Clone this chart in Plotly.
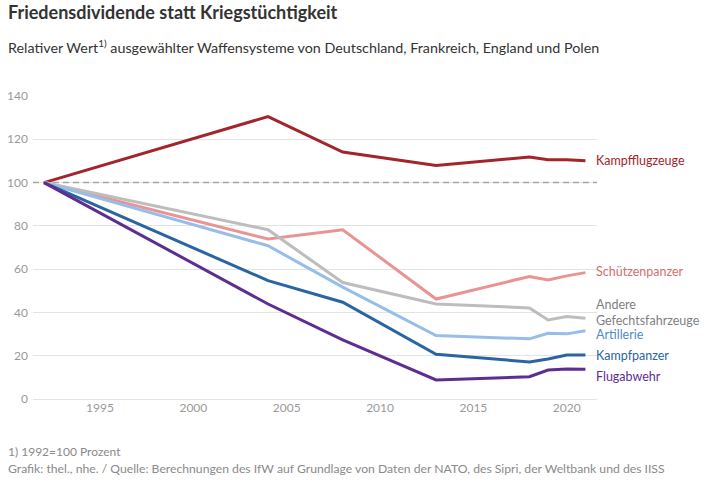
import plotly.graph_objects as go

years = [1992, 2004, 2008, 2013, 2018, 2019, 2020, 2021]
kampfflugzeuge = [100, 130.5, 114.1, 107.9, 111.8, 110.5, 110.5, 110.1]
schuetzenpanzer = [100, 73.9, 78.2, 46.2, 56.6, 55.0, 56.9, 58.4]
andere = [100, 78.2, 53.8, 43.9, 42.1, 36.5, 38.1, 37.3]
artillerie = [100, 70.8, 51.7, 29.3, 27.8, 30.4, 30.1, 31.5]
kampfpanzer = [100, 54.7, 44.7, 20.7, 17.1, 18.5, 20.3, 20.3]
flugabwehr = [100, 43.9, 27.3, 8.8, 10.3, 13.4, 13.9, 13.7]

series = [
    ("Kampfflugzeuge", kampfflugzeuge, "#a3242b", "#a3242b"),
    ("Schützenpanzer", schuetzenpanzer, "#ea9393", "#d46e6e"),
    ("Andere<br>Gefechtsfahrzeuge", andere, "#bdbdbd", "#7f7f7f"),
    ("Artillerie", artillerie, "#97bde9", "#4f8ac9"),
    ("Kampfpanzer", kampfpanzer, "#2b64a3", "#2b64a3"),
    ("Flugabwehr", flugabwehr, "#5c2e92", "#5c2e92"),
]

label_pos = {
    "Kampfflugzeuge": 110.1,
    "Schützenpanzer": 59.0,
    "Andere<br>Gefechtsfahrzeuge": 39.9,
    "Artillerie": 30.0,
    "Kampfpanzer": 20.3,
    "Flugabwehr": 10.4,
}

y_ticks = [0, 20, 40, 60, 80, 100, 120, 140]
x_ticks = [1995, 2000, 2005, 2010, 2015, 2020]
x_range = [1991.41, 2021.62]

FONT = "Lato"
W, H = 704, 485
ML, MR, MT, MB = 33, 107, 96, 86
PW, PH = W - ML - MR, H - MT - MB


def px_x(px):
    return (px - ML) / PW


def px_y(py):
    return (H - MB - py) / PH


fig = go.Figure()
fig.add_trace(go.Scatter(x=x_range, y=[100, 100], mode="lines",
                         line=dict(color="#a6a6a6", width=1.6, dash="6px,4px"),
                         showlegend=False, hoverinfo="skip"))
for name, vals, col, tcol in series:
    fig.add_trace(go.Scatter(x=years, y=vals, mode="lines", name=name,
                             line=dict(color=col, width=3), showlegend=False,
                             hoverinfo="skip"))

for name, vals, col, tcol in series:
    fig.add_annotation(x=years[-1], y=label_pos[name], xref="x", yref="y",
                       text=name, showarrow=False, xanchor="left", yanchor="middle",
                       xshift=9, align="left",
                       font=dict(family=FONT, size=12.5, color=tcol))

fig.add_annotation(xref="paper", yref="paper", x=px_x(6), y=px_y(12),
                   text="<b>Friedensdividende statt Kriegstüchtigkeit</b>",
                   showarrow=False, xanchor="left", yanchor="middle",
                   font=dict(family=FONT, size=18, color="#333333"))
fig.add_annotation(xref="paper", yref="paper", x=px_x(6), y=px_y(47),
                   text="Relativer Wert<sup>1)</sup> ausgewählter Waffensysteme von Deutschland, Frankreich, England und Polen",
                   showarrow=False, xanchor="left", yanchor="middle",
                   font=dict(family=FONT, size=14.3, color="#333333"))
fig.add_annotation(xref="paper", yref="paper", x=px_x(6), y=px_y(451),
                   text="1) 1992=100 Prozent",
                   showarrow=False, xanchor="left", yanchor="middle",
                   font=dict(family=FONT, size=12, color="#8a8a8a"))
fig.add_annotation(xref="paper", yref="paper", x=px_x(6), y=px_y(468),
                   text="Grafik: thel., nhe. / Quelle: Berechnungen des IfW auf Grundlage von Daten der NATO, des Sipri, der Weltbank und des IISS",
                   showarrow=False, xanchor="left", yanchor="middle",
                   font=dict(family=FONT, size=12.2, color="#8a8a8a"))

fig.update_layout(
    width=W, height=H,
    margin=dict(l=ML, r=MR, t=MT, b=MB, autoexpand=False),
    paper_bgcolor="white", plot_bgcolor="white",
    font=dict(family=FONT, color="#999999", size=12),
    xaxis=dict(range=x_range, tickvals=x_ticks, showgrid=False,
               zeroline=False, showline=False, ticks="", automargin=False,
               tickfont=dict(family=FONT, size=12, color="#999999")),
    yaxis=dict(range=[0, 140], tickvals=y_ticks, showgrid=True,
               gridcolor="#e3e3e3", gridwidth=1, zeroline=True, zerolinecolor="#e3e3e3",
               zerolinewidth=1, showline=False, ticks="", automargin=False,
               tickfont=dict(family=FONT, size=12, color="#999999"),
               ticklabelstandoff=4),
)

fig.write_html("out.html", config={"displayModeBar": False},
               post_script="document.body.style.margin='0';")
